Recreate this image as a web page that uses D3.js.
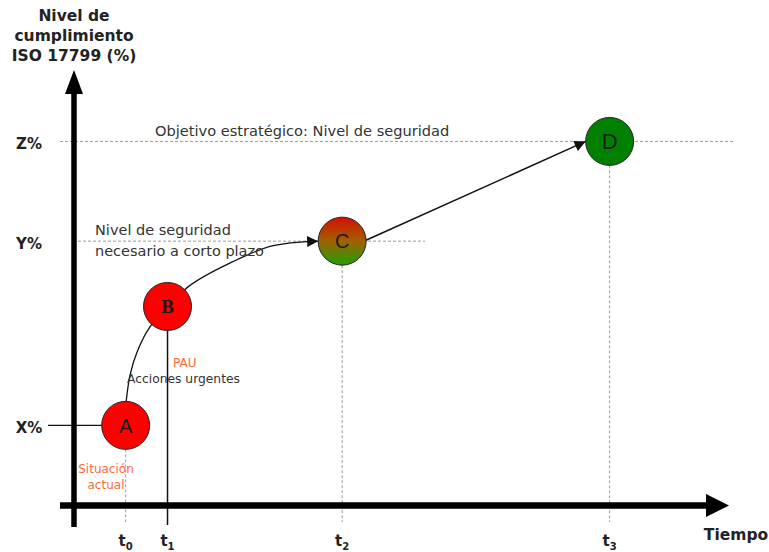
<!DOCTYPE html>
<html>
<head>
<meta charset="utf-8">
<script src="https://cdn.jsdelivr.net/npm/d3@7"></script>
<style>
  html, body { margin: 0; padding: 0; background: #fff; }
  svg { display: block; }
</style>
</head>
<body>
<svg id="chart" width="769" height="552"></svg>
<script>
// Time points on the horizontal axis (arbitrary units 0–100)
const timeKeys = ["0", "1", "2", "3"];
const timeValues = [7.9, 14.3, 41.0, 81.9];

// Compliance levels on the vertical axis (% of ISO 17799, 0–100)
const levelLabels = ["X%", "Y%", "Z%"];
const levelValues = [18.4, 60.7, 83.6];

// Milestones along the roadmap
const milestoneNames = ["A", "B", "C", "D"];
const milestoneTimes = [7.9, 14.3, 41.0, 81.9];
const milestoneLevels = [18.4, 45.7, 60.7, 83.6];

// Growth curve from A through B towards C (time, level)
const curveTimes = [7.95, 8.56, 9.63, 11.62, 17.43, 24.3, 30.3];
const curveLevels = [23.5, 29.9, 35.2, 41.0, 50.2, 56.0, 59.6];

const svg = d3.select("#chart");
const x = d3.scaleLinear().domain([0, 100]).range([74, 728]);
const y = d3.scaleLinear().domain([0, 100]).range([505.5, 70]);
const R = 24;
const baseY = 522;
const sans = "DejaVu Sans, Verdana, sans-serif";

const defs = svg.append("defs");
defs.append("marker")
  .attr("id", "arrow")
  .attr("viewBox", "0 0 10 10")
  .attr("refX", 10).attr("refY", 5)
  .attr("markerWidth", 14).attr("markerHeight", 11)
  .attr("markerUnits", "userSpaceOnUse")
  .attr("orient", "auto")
  .append("path").attr("d", "M0,0 L10,5 L0,10 Z").attr("fill", "#111");

const grad = defs.append("linearGradient")
  .attr("id", "gradC").attr("x1", 0).attr("y1", 0).attr("x2", 0).attr("y2", 1);
grad.append("stop").attr("offset", "0%").attr("stop-color", "#d41000");
grad.append("stop").attr("offset", "50%").attr("stop-color", "#a06000");
grad.append("stop").attr("offset", "100%").attr("stop-color", "#1fa000");

// Reference levels
const dash = "#9a9a9a";
svg.append("line")
  .attr("x1", 60).attr("x2", 735)
  .attr("y1", y(levelValues[2])).attr("y2", y(levelValues[2]))
  .attr("stroke", dash).attr("stroke-width", 1).attr("stroke-dasharray", "3,2");
svg.append("line")
  .attr("x1", 78).attr("x2", 425)
  .attr("y1", y(levelValues[1])).attr("y2", y(levelValues[1]))
  .attr("stroke", dash).attr("stroke-width", 1).attr("stroke-dasharray", "3,2");
svg.append("line")
  .attr("x1", 48).attr("x2", x(milestoneTimes[0]) - R)
  .attr("y1", y(levelValues[0])).attr("y2", y(levelValues[0]))
  .attr("stroke", "#111").attr("stroke-width", 1.3);

// Drop lines from each milestone to the time axis
milestoneNames.forEach((n, i) => {
  const solid = i === 1;
  svg.append("line")
    .attr("x1", x(milestoneTimes[i])).attr("x2", x(milestoneTimes[i]))
    .attr("y1", y(milestoneLevels[i]) + R)
    .attr("y2", solid ? 525 : baseY)
    .attr("stroke", solid ? "#111" : dash)
    .attr("stroke-width", solid ? 1.5 : 1)
    .attr("stroke-dasharray", solid ? null : "3,2");
});

// Growth curve A → B → C
const cx = milestoneTimes.map(x), cy = milestoneLevels.map(y);
const curvePts = curveTimes.map((t, i) => [x(t), y(curveLevels[i])]);
curvePts.push([cx[2] - R, cy[2]]);
svg.append("path")
  .attr("d", d3.line().curve(d3.curveCatmullRom.alpha(0.5))(curvePts))
  .attr("fill", "none").attr("stroke", "#111").attr("stroke-width", 1.3)
  .attr("marker-end", "url(#arrow)");

// Straight path C → D
const a0 = -0.12;
svg.append("line")
  .attr("x1", cx[2] + R * Math.cos(a0)).attr("y1", cy[2] + R * Math.sin(a0) + 2)
  .attr("x2", cx[3] - R).attr("y2", cy[3])
  .attr("stroke", "#111").attr("stroke-width", 1.5)
  .attr("marker-end", "url(#arrow)");

// Axes
svg.append("line").attr("x1", 74).attr("x2", 74).attr("y1", 527).attr("y2", 90)
  .attr("stroke", "#000").attr("stroke-width", 5.5);
svg.append("path").attr("d", "M74,70 L65,94 L83,94 Z").attr("fill", "#000");
svg.append("line").attr("x1", 60).attr("x2", 710).attr("y1", 505.5).attr("y2", 505.5)
  .attr("stroke", "#000").attr("stroke-width", 6.5);
svg.append("path").attr("d", "M729,505.5 L706,494 L706,517 Z").attr("fill", "#000");

// Milestone circles
const fills = ["#ff0000", "#ff0000", "url(#gradC)", "#008000"];
const fonts = ["Liberation Sans, Arial, sans-serif", "Liberation Serif, Times New Roman, serif",
               "Liberation Sans, Arial, sans-serif", "Liberation Sans, Arial, sans-serif"];
const sizes = [20, 19, 20, 22];
const weights = ["normal", "bold", "normal", "normal"];
milestoneNames.forEach((n, i) => {
  svg.append("circle").attr("cx", cx[i]).attr("cy", cy[i]).attr("r", R)
    .attr("fill", fills[i]).attr("stroke", "#222").attr("stroke-width", 1);
  svg.append("text").attr("x", cx[i]).attr("y", cy[i]).attr("dy", "0.36em")
    .attr("text-anchor", "middle").attr("font-family", fonts[i])
    .attr("font-weight", weights[i])
    .attr("font-size", sizes[i]).attr("fill", "#1a1a1a").text(n);
});

// Level labels
levelLabels.forEach((l, i) => {
  svg.append("text").attr("x", 29).attr("y", y(levelValues[i]) + 8)
    .attr("text-anchor", "middle").attr("font-family", sans)
    .attr("font-weight", "bold").attr("font-size", 15).attr("fill", "#222").text(l);
});

// Time labels with subscripts
timeKeys.forEach((k, i) => {
  const t = svg.append("text").attr("x", x(timeValues[i])).attr("y", 546)
    .attr("text-anchor", "middle").attr("font-family", sans)
    .attr("font-weight", "bold").attr("font-size", 15).attr("fill", "#222");
  t.append("tspan").text("t");
  t.append("tspan").attr("dy", 4).attr("font-size", 10).text(k);
});

svg.append("text").attr("x", 736).attr("y", 540).attr("text-anchor", "middle")
  .attr("font-family", sans).attr("font-weight", "bold").attr("font-size", 15.5)
  .attr("fill", "#222").text("Tiempo");

// Vertical axis title
["Nivel de", "cumplimiento", "ISO 17799 (%)"].forEach((s, i) => {
  svg.append("text").attr("x", 74).attr("y", 21 + i * 20).attr("text-anchor", "middle")
    .attr("font-family", sans).attr("font-weight", "bold").attr("font-size", 15.5)
    .attr("fill", "#222").text(s);
});

// Annotations
const note = (tx, ty, s, size, color, anchor, weight) =>
  svg.append("text").attr("x", tx).attr("y", ty).attr("text-anchor", anchor || "start")
    .attr("font-family", sans).attr("font-size", size).attr("fill", color)
    .attr("font-weight", weight || "normal").text(s);

note(155, 136, "Objetivo estratégico: Nivel de seguridad", 14.6, "#333");
note(95, 235, "Nivel de seguridad", 14.5, "#333");
note(95, 256, "necesario a corto plazo", 14.5, "#333");
note(173, 367, "PAU", 12, "#ff6a3a");
note(127, 383, "Acciones urgentes", 12.3, "#333");
note(106, 473, "Situación", 12, "#ff6a3a", "middle");
note(106, 489, "actual", 12, "#ff6a3a", "middle");
</script>
</body>
</html>
